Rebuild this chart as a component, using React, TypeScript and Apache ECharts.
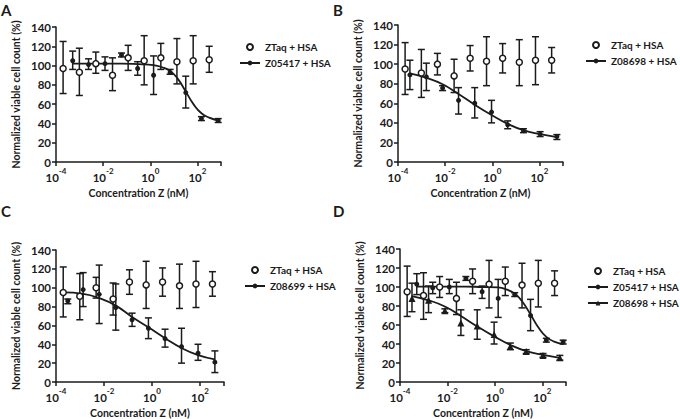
import React, { useEffect, useRef } from 'react';
import * as echarts from 'echarts';

// ---------- data ----------
const ztaqA_x = [2.0e-4, 9.8e-4, 4.9e-3, 0.025, 0.115, 0.55, 2.8, 13.5, 66, 316];
const ztaqA_y = [97, 93, 102, 90, 108, 105, 108, 104, 105, 106];
const ztaqA_lo = [71, 69, 92, 74, 95, 80, 96, 81, 81, 93];
const ztaqA_hi = [125, 118, 114, 108, 121, 131, 123, 128, 131, 120];

const ztaq_x = [2.0e-4, 9.8e-4, 4.7e-3, 0.024, 0.115, 0.57, 2.75, 14, 68, 330];
const ztaq_y = [95, 91, 100, 88, 106, 103, 106, 102, 104, 104];
const ztaq_lo = [69, 66, 89, 71, 93, 78, 91, 78, 79, 91];
const ztaq_hi = [122, 115, 111, 105, 119, 128, 121, 125, 128, 117];

const z05417_x = [5.1e-4, 2.4e-3, 0.012, 0.06, 0.29, 1.38, 6.9, 32, 148, 760];
const z05417A_y = [105, 101, 102, 111, 97, 90, 93, 72, 45, 43];
const z05417A_lo = [96, 96, 95, 109, 90, 70, 91, 56, 43, 41];
const z05417A_hi = [115, 107, 109, 113, 104, 110, 96, 89, 47, 45];
const z05417A_curveX = [5.1e-4, 2.4e-3, 0.012, 0.06, 0.29, 1.38, 3, 6.9, 14, 32, 70, 148, 316, 760];
const z05417A_curveY = [102, 102, 102, 102, 101.5, 100.5, 98.5, 94.5, 87, 73, 59.5, 50.5, 46, 43];

const z05417D_y = [103, 99, 100, 109, 95, 88, 92, 70, 44, 42];
const z05417D_lo = [92, 93, 93, 107, 88, 68, 90, 54, 42, 40];
const z05417D_hi = [114, 105, 108, 111, 101, 108, 94, 87, 46, 44];
const z05417D_curveX = [5.1e-4, 2.4e-3, 0.012, 0.06, 0.29, 1.38, 3, 6.9, 14, 32, 70, 148, 316, 760];
const z05417D_curveY = [100.5, 100.5, 100.5, 100.5, 100, 99.5, 97.5, 93, 85, 71, 57, 47.5, 42.5, 40];

const z08698_x = [3.2e-4, 1.6e-3, 7.8e-3, 0.037, 0.18, 0.93, 4.5, 21, 107, 550];
const z08698B_y = [89, 87, 75.5, 63, 60, 51, 38, 32, 28.5, 26];
const z08698B_lo = [74, 73, 73, 49, 45, 40, 34, 30, 26, 23];
const z08698B_hi = [104, 101, 78, 76, 76, 63, 42, 34, 31, 28];
const z08698D_y = [88, 86, 75, 62, 59, 50, 37.5, 32, 28, 25.5];
const z08698D_lo = [74, 73, 73, 49, 45, 40, 34, 30, 26, 23];
const z08698D_hi = [104, 101, 77, 76, 76, 63, 41, 34, 30, 28];
const z08698_curveX = [3.2e-4, 1.6e-3, 7.8e-3, 0.037, 0.18, 0.93, 4.5, 21, 107, 550];
const z08698_curveY = [90.5, 86, 79.5, 69.5, 58.5, 48, 39, 32.5, 28.5, 25.5];

const z08699_x = [3.1e-4, 1.35e-3, 6.3e-3, 0.031, 0.148, 0.71, 3.5, 17, 83, 417];
const z08699_y = [86, 98, 93, 79, 66, 57, 46, 37.5, 30.5, 21];
const z08699_lo = [83, 80, 62, 55, 59, 46, 37, 20, 23, 10];
const z08699_hi = [88, 116, 124, 104, 73, 68, 56, 57, 40, 33];
const z08699_curveX = [2.0e-4, 1.35e-3, 6.3e-3, 0.031, 0.148, 0.71, 3.5, 17, 83, 417];
const z08699_curveY = [95, 93.5, 89, 81, 69, 58, 46.5, 36, 28.5, 24];

const yTicks = [0, 20, 40, 60, 80, 100, 120, 140];
const panelLabels = ['A', 'B', 'C', 'D'];

// ---------- styling ----------
const INK = '#1b1b1b';
const FONT = 'Lato, "Open Sans", sans-serif';

const grids = [
  { left: 56, top: 27, width: 165, height: 135 },
  { left: 398, top: 25, width: 165, height: 137 },
  { left: 56, top: 250, width: 168, height: 133 },
  { left: 400, top: 249, width: 166, height: 135 },
];

const pairs = (x: number[], y: number[]) => x.map((v, i) => [v, y[i]]);
const triples = (x: number[], lo: number[], hi: number[]) => x.map((v, i) => [v, lo[i], hi[i]]);

const errorBars = (idx: number, data: number[][]) => ({
  type: 'custom',
  xAxisIndex: idx,
  yAxisIndex: idx,
  data,
  z: 2,
  silent: true,
  encode: { x: 0, y: [1, 2] },
  renderItem: (_p: any, api: any) => {
    const x = api.value(0);
    const lo = api.coord([x, api.value(1)]);
    const hi = api.coord([x, api.value(2)]);
    const cap = 3.5;
    const style = { stroke: INK, lineWidth: 1.5 };
    return {
      type: 'group',
      children: [
        { type: 'line', shape: { x1: lo[0], y1: lo[1], x2: hi[0], y2: hi[1] }, style },
        { type: 'line', shape: { x1: lo[0] - cap, y1: lo[1], x2: lo[0] + cap, y2: lo[1] }, style },
        { type: 'line', shape: { x1: hi[0] - cap, y1: hi[1], x2: hi[0] + cap, y2: hi[1] }, style },
      ],
    };
  },
});

const openDots = (idx: number, name: string, data: number[][]) => ({
  type: 'scatter',
  name,
  xAxisIndex: idx,
  yAxisIndex: idx,
  data,
  symbol: 'circle',
  symbolSize: 6,
  z: 4,
  itemStyle: { color: '#ffffff', borderColor: INK, borderWidth: 1.5, opacity: 1 },
});

const filledDots = (idx: number, name: string, data: number[][], symbol: string, size: number) => ({
  type: 'scatter',
  name,
  xAxisIndex: idx,
  yAxisIndex: idx,
  data,
  symbol,
  symbolSize: size,
  z: 4,
  itemStyle: { color: INK, opacity: 1 },
});

const curve = (idx: number, name: string, data: number[][], symbol: string) => ({
  type: 'line',
  name,
  xAxisIndex: idx,
  yAxisIndex: idx,
  data,
  smooth: 0.5,
  showSymbol: false,
  symbol,
  symbolSize: 5,
  z: 3,
  lineStyle: { color: INK, width: 1.8 },
  itemStyle: { color: INK },
});

const legend = (data: string[], left: number, top: number) => ({
  data,
  left,
  top,
  padding: 0,
  orient: 'vertical',
  itemWidth: 20,
  itemHeight: 6,
  itemGap: 4,
  selectedMode: false,
  formatter: (n: string) => n.replace(/ \[[A-D]\]$/, ''),
  textStyle: { color: INK, fontFamily: FONT, fontSize: 10, fontWeight: 'bold', lineHeight: 12 },
});

export default function App() {
  const ref = useRef<HTMLDivElement>(null);
  useEffect(() => {
    if (!ref.current) return;
    const chart = echarts.init(ref.current, null, { renderer: 'svg' });

    const xAxes = grids.map((_, i) => ({
      type: 'log',
      logBase: 10,
      gridIndex: i,
      min: 1e-4,
      max: 1e3,
      interval: 2,
      name: 'Concentration Z (nM)',
      nameLocation: 'middle',
      nameGap: 25,
      nameTextStyle: { color: INK, fontFamily: FONT, fontSize: 10.5, fontWeight: 'bold' },
      axisLine: { show: true, lineStyle: { color: INK, width: 1.5 } },
      axisTick: { show: true, inside: false, length: 4, lineStyle: { color: INK, width: 1.5 } },
      splitLine: { show: false },
      minorTick: { show: false },
      axisLabel: {
        margin: 5,
        color: INK,
        formatter: (v: number) => {
          const e = Math.round(Math.log10(v));
          if (e % 2 !== 0) return '';
          return `{b|10}{s|${e}}`;
        },
        rich: {
          b: { fontFamily: FONT, fontSize: 11.5, fontWeight: 'bold', color: INK, lineHeight: 16, verticalAlign: 'bottom' },
          s: { fontFamily: FONT, fontSize: 8, fontWeight: 'bold', color: INK, lineHeight: 9, verticalAlign: 'top' },
        },
      },
    }));

    const yAxes = grids.map((_, i) => ({
      type: 'value',
      gridIndex: i,
      min: yTicks[0],
      max: yTicks[yTicks.length - 1],
      interval: yTicks[1] - yTicks[0],
      name: 'Normalized viable cell count (%)',
      nameLocation: 'middle',
      nameGap: 35,
      nameTextStyle: { color: INK, fontFamily: FONT, fontSize: 10.5, fontWeight: 'bold' },
      axisLine: { show: true, lineStyle: { color: INK, width: 1.5 } },
      axisTick: { show: true, inside: false, length: 4, lineStyle: { color: INK, width: 1.5 } },
      splitLine: { show: false },
      axisLabel: { margin: 5, color: INK, fontFamily: FONT, fontSize: 11.5, fontWeight: 'bold' },
    }));

    const series: any[] = [
      // Panel A
      curve(0, 'Z05417 + HSA [A]', pairs(z05417A_curveX, z05417A_curveY), 'circle'),
      errorBars(0, triples(ztaqA_x, ztaqA_lo, ztaqA_hi)),
      errorBars(0, triples(z05417_x, z05417A_lo, z05417A_hi)),
      openDots(0, 'ZTaq + HSA [A]', pairs(ztaqA_x, ztaqA_y)),
      filledDots(0, 'Z05417 points A', pairs(z05417_x, z05417A_y), 'circle', 5),
      // Panel B
      curve(1, 'Z08698 + HSA [B]', pairs(z08698_curveX, z08698_curveY), 'circle'),
      errorBars(1, triples(ztaq_x, ztaq_lo, ztaq_hi)),
      errorBars(1, triples(z08698_x, z08698B_lo, z08698B_hi)),
      openDots(1, 'ZTaq + HSA [B]', pairs(ztaq_x, ztaq_y)),
      filledDots(1, 'Z08698 points B', pairs(z08698_x, z08698B_y), 'circle', 5),
      // Panel C
      curve(2, 'Z08699 + HSA [C]', pairs(z08699_curveX, z08699_curveY), 'circle'),
      errorBars(2, triples(ztaq_x, ztaq_lo, ztaq_hi)),
      errorBars(2, triples(z08699_x, z08699_lo, z08699_hi)),
      openDots(2, 'ZTaq + HSA [C]', pairs(ztaq_x, ztaq_y)),
      filledDots(2, 'Z08699 points C', pairs(z08699_x, z08699_y), 'circle', 5),
      // Panel D
      curve(3, 'Z05417 + HSA [D]', pairs(z05417D_curveX, z05417D_curveY), 'circle'),
      curve(3, 'Z08698 + HSA [D]', pairs(z08698_curveX, z08698_curveY), 'triangle'),
      errorBars(3, triples(ztaq_x, ztaq_lo, ztaq_hi)),
      errorBars(3, triples(z05417_x, z05417D_lo, z05417D_hi)),
      errorBars(3, triples(z08698_x, z08698D_lo, z08698D_hi)),
      openDots(3, 'ZTaq + HSA [D]', pairs(ztaq_x, ztaq_y)),
      filledDots(3, 'Z05417 points D', pairs(z05417_x, z05417D_y), 'circle', 5),
      filledDots(3, 'Z08698 points D', pairs(z08698_x, z08698D_y), 'triangle', 7),
    ];

    const labelPos = [
      [1, 2],
      [333, 2],
      [1, 203],
      [333, 203],
    ];

    chart.setOption({
      animation: false,
      backgroundColor: '#ffffff',
      grid: grids,
      xAxis: xAxes,
      yAxis: yAxes,
      legend: [
        legend(['ZTaq + HSA [A]', 'Z05417 + HSA [A]'], 239, 41),
        legend(['ZTaq + HSA [B]', 'Z08698 + HSA [B]'], 585, 39),
        legend(['ZTaq + HSA [C]', 'Z08699 + HSA [C]'], 244, 264),
        legend(['ZTaq + HSA [D]', 'Z05417 + HSA [D]', 'Z08698 + HSA [D]'], 587, 265),
      ],
      graphic: panelLabels.map((t, i) => ({
        type: 'text',
        left: labelPos[i][0],
        top: labelPos[i][1],
        style: { text: t, fill: INK, font: `bold 15px ${FONT}` },
      })),
      series,
    });
    return () => chart.dispose();
  }, []);

  return (
    <div
      ref={ref}
      style={{ position: 'absolute', left: 0, top: 0, width: 680, height: 419, background: '#fff' }}
    />
  );
}
